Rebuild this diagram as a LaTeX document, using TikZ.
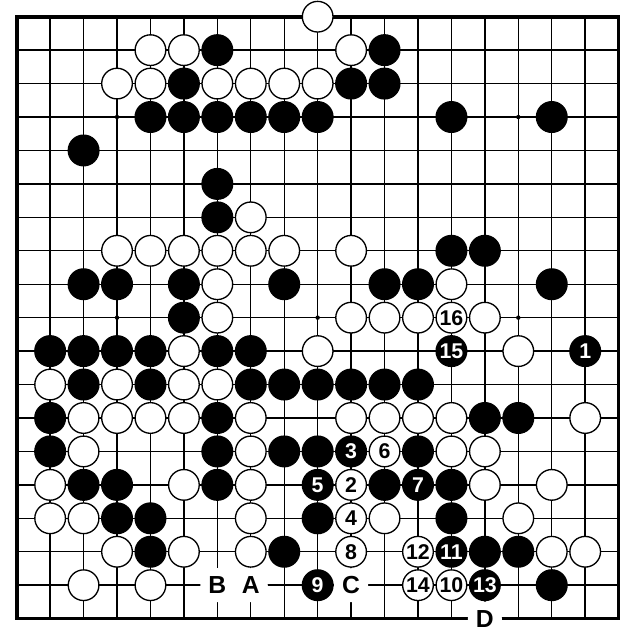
\documentclass[tikz,border=0pt]{standalone}
\usepackage{fontspec}
\setmainfont{Liberation Sans}
\begin{document}
\begin{tikzpicture}[x=25.08pt,y=-25.08pt,
  gridline/.style={line width=1.05pt},
  boardedge/.style={line width=2.7pt},
  stone/.style={circle,draw=black,line width=1pt,minimum size=23pt,inner sep=0pt,font=\fontsize{16}{16}\selectfont\bfseries},
  bstone/.style={stone,fill=black,text=white},
  wstone/.style={stone,fill=white,text=black},
  lbl/.style={circle,fill=white,minimum size=25.5pt,inner sep=0pt,font=\fontsize{18.5}{18.5}\selectfont\bfseries}]
\fill[white] (-0.4994,-0.4994) rectangle (18.639,18.639);
\useasboundingbox (-0.4994,-0.4994) rectangle (18.639,18.639);
% grid
\foreach \i in {1,...,17} {
  \draw[gridline] (\i,0) -- (\i,18);
  \draw[gridline] (0,\i) -- (18,\i);
}
\draw[boardedge] (0,0) rectangle (18,18);
% star points
\foreach \c/\r in {3/3,9/3,15/3,3/9,9/9,15/9,3/15,9/15,15/15}
  \fill (\c,\r) circle (0.066);
% letter labels
\node[lbl] (lB) at (6,17) {B};
\node[lbl] (lA) at (7,17) {A};
\node[lbl] (lC) at (10,17) {C};
\node[lbl] (lD) at (14,18) {D};
% black stones
\foreach \c/\r in {6/1,11/1,
  5/2,10/2,11/2,
  4/3,5/3,6/3,7/3,8/3,9/3,13/3,16/3,
  2/4,6/5,6/6,
  13/7,14/7,
  2/8,3/8,5/8,8/8,11/8,12/8,16/8,
  5/9,
  1/10,2/10,3/10,4/10,6/10,7/10,
  2/11,4/11,7/11,8/11,9/11,10/11,11/11,12/11,
  1/12,6/12,14/12,15/12,
  1/13,6/13,8/13,9/13,12/13,
  2/14,3/14,6/14,11/14,13/14,
  3/15,4/15,9/15,13/15,
  4/16,8/16,14/16,15/16,
  16/17}
  \node[bstone] (b-\c-\r) at (\c,\r) {};
% white stones
\foreach \c/\r in {9/0,
  4/1,5/1,10/1,
  3/2,4/2,6/2,7/2,8/2,9/2,
  7/6,
  3/7,4/7,5/7,6/7,7/7,8/7,10/7,
  6/8,13/8,
  6/9,10/9,11/9,12/9,14/9,
  5/10,9/10,15/10,
  1/11,3/11,5/11,6/11,
  2/12,3/12,4/12,5/12,7/12,10/12,11/12,12/12,13/12,17/12,
  2/13,7/13,13/13,14/13,
  1/14,5/14,7/14,14/14,16/14,
  1/15,2/15,7/15,11/15,15/15,
  3/16,5/16,7/16,16/16,17/16,
  2/17,4/17}
  \node[wstone] (w-\c-\r) at (\c,\r) {};
% numbered moves
\node[bstone] (m1) at (17,10) {1};
\node[wstone] (m2) at (10,14) {2};
\node[bstone] (m3) at (10,13) {3};
\node[wstone] (m4) at (10,15) {4};
\node[bstone] (m5) at (9,14) {5};
\node[wstone] (m6) at (11,13) {6};
\node[bstone] (m7) at (12,14) {7};
\node[wstone] (m8) at (10,16) {8};
\node[bstone] (m9) at (9,17) {9};
\node[wstone] (m10) at (13,17) {10};
\node[bstone] (m11) at (13,16) {11};
\node[wstone] (m12) at (12,16) {12};
\node[bstone] (m13) at (14,17) {13};
\node[wstone] (m14) at (12,17) {14};
\node[bstone] (m15) at (13,10) {15};
\node[wstone] (m16) at (13,9) {16};
\end{tikzpicture}
\end{document}
